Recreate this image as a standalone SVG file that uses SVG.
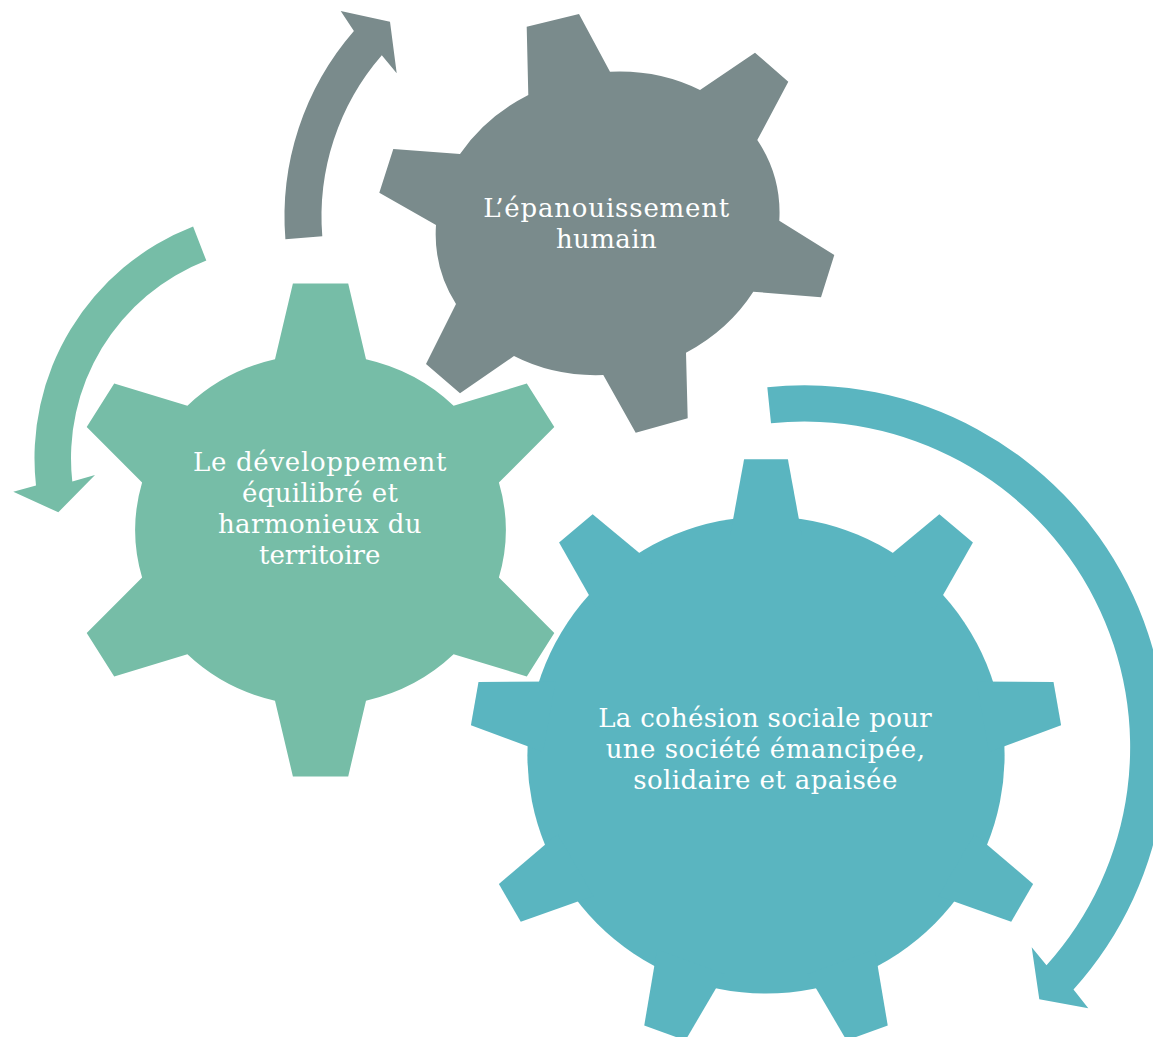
<svg xmlns="http://www.w3.org/2000/svg" width="1153" height="1037" viewBox="0 0 1153 1037">
<style>
.gray{fill:#7A8B8C}
.green{fill:#76BDA7}
.teal{fill:#5AB5C0}
.lbl{font-family:"DejaVu Serif","Liberation Serif",serif;font-size:26px;fill:#FFFFFF;text-anchor:middle}
</style>
<defs>
<polygon id="tooth9" points="-35.8,-220 -21.9,-295.8 21.9,-295.8 35.8,-220"/>
</defs>
<rect width="1153" height="1037" fill="#FFFFFF"/>
<g id="connectors">
<path id="arrow-gray" class="gray" d="M285.4,239.3 A283,283 0 0 1 353.9,30.9 L340.7,11 L390,21.7 L396.7,73.3 L381.8,55.2 A246,246 0 0 0 322.3,236.3 Z"/>
<path id="arrow-green" class="green" d="M193.1,226.6 A248.5,248.5 0 0 0 36,485.6 L13.3,491.7 L58.3,512.3 L95,475 L72.3,481.6 A212,212 0 0 1 206.3,260.6 Z"/>
<path id="arrow-teal" class="teal" d="M767.3,387.2 A362,362 0 0 1 1073.5,989.5 L1088.3,1008.3 L1039.3,999.3 L1031.7,947.3 L1046.5,965.2 A325.7,325.7 0 0 0 771,423.3 Z"/>
</g>
<g id="node-developpement">
<path class="green" d="M275,359.3 L292.9,283.6 L348.2,283.6 L366,359.3 A185,176 0 0 1 453.6,405.7 L526.8,383.6 L554.3,427.1 L498.9,482.5 A185,176 0 0 1 498.9,577.5 L554.3,632.9 L526.8,676.4 L453.6,654.3 A185,176 0 0 1 366,700.7 L348.2,776.4 L292.9,776.4 L275,700.7 A185,176 0 0 1 187.4,654.3 L114.2,676.4 L86.7,632.9 L142.1,577.5 A185,176 0 0 1 142.1,482.5 L86.7,427.1 L114.2,383.6 L187.4,405.7 A185,176 0 0 1 275,359.3 Z"/>
<text class="lbl" x="319.7" y="471" textLength="253.5">Le développement</text>
<text class="lbl" x="320" y="502" textLength="156">équilibré et</text>
<text class="lbl" x="319.7" y="533" textLength="203.5">harmonieux du</text>
<text class="lbl" x="319.7" y="564" textLength="121.4">territoire</text>
</g>
<g id="node-epanouissement">
<path class="gray" d="M528.3,95 L526.7,26.7 L579,14 L610,71.7 A174,150 -15 0 1 700,90 L755,52.7 L788.3,81.7 L757.3,140 A174,150 -15 0 1 779.3,220.7 L834.3,255 L821,297.3 L753.3,291.7 A174,150 -15 0 1 686,352.7 L687.7,418.3 L635.7,432.7 L603.3,375 A174,150 -15 0 1 514,356 L460,393.3 L426,364 L456,304 A174,150 -15 0 1 436,225 L379.3,192.7 L393.3,149 L460,154 A174,150 -15 0 1 528.3,95 Z"/>
<text class="lbl" x="606.3" y="216.7" textLength="246">L’épanouissement</text>
<text class="lbl" x="606.3" y="248.3" textLength="100.7">humain</text>
</g>
<g id="node-cohesion">
<g class="teal" transform="translate(766,755)">
<circle r="238.6"/>
<use href="#tooth9"/>
<use href="#tooth9" transform="rotate(40)"/>
<use href="#tooth9" transform="rotate(80)"/>
<use href="#tooth9" transform="rotate(120)"/>
<use href="#tooth9" transform="rotate(160)"/>
<use href="#tooth9" transform="rotate(200)"/>
<use href="#tooth9" transform="rotate(240)"/>
<use href="#tooth9" transform="rotate(280)"/>
<use href="#tooth9" transform="rotate(320)"/>
</g>
<text class="lbl" x="765" y="727.3" textLength="333.4">La cohésion sociale pour</text>
<text class="lbl" x="765.3" y="758.3" textLength="319.3">une société émancipée,</text>
<text class="lbl" x="765.3" y="788.8" textLength="264">solidaire et apaisée</text>
</g>
</svg>
